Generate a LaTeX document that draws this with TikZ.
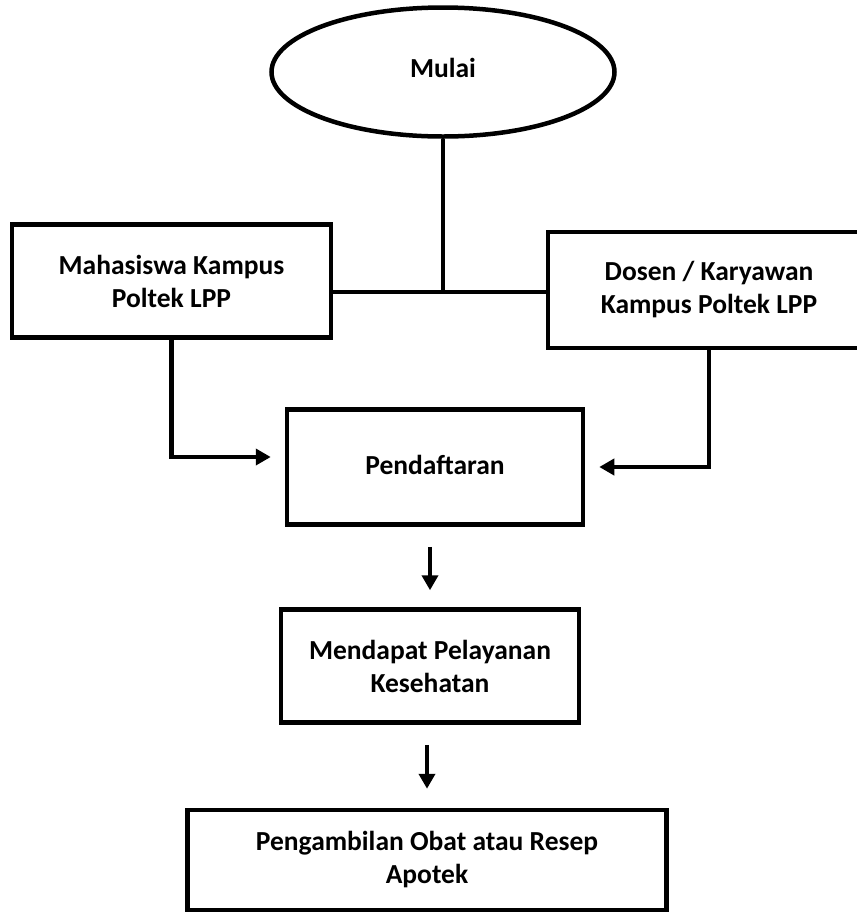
\documentclass[tikz,border=0pt]{standalone}
\usepackage{fontspec}
\setmainfont{Carlito}
\usepackage{tikz}
\usetikzlibrary{calc,arrows.meta,shapes.geometric}
\newcommand{\linecolor}{black}
\newcommand{\thickness}{4.5pt}
\tikzset{
  box/.style={draw=\linecolor, line width=\thickness, rectangle, align=center,
    font=\fontsize{27.5}{33}\selectfont\bfseries},
  start/.style={box, ellipse},
  link/.style={draw=\linecolor, line width=\thickness},
  arr/.style={link, -{Triangle[length=15pt,width=16pt]}}
}

\begin{document}
\begin{tikzpicture}[x=1pt,y=-1pt]
\useasboundingbox (0,0) rectangle (857,914);
\node[start, minimum width=343, minimum height=129] (mulai) at (443, 72) {\raisebox{9pt}{Mulai}};
\node[box, minimum width=319, minimum height=113] (mhs) at (171.5, 281) {Mahasiswa Kampus\\Poltek LPP};
\node[box, minimum width=322, minimum height=116] (dosen) at (709, 290) {Dosen / Karyawan\\Kampus Poltek LPP};
\node[box, minimum width=296, minimum height=115] (daftar) at (435, 467) {\raisebox{5pt}{Pendaftaran}};
\node[box, minimum width=298, minimum height=113] (dapat) at (430, 666) {Mendapat Pelayanan\\Kesehatan};
\node[box, minimum width=479, minimum height=100] (ambil) at (427, 860) {Pengambilan Obat atau Resep\\Apotek};
\coordinate (jn) at (mulai.south |- 0, 292);
%percabangan
\draw[link] (mulai.south) -- (jn);
\draw[link] (mhs.east |- jn) -- (dosen.west |- jn);
%masuk pendaftaran
\draw[arr, shorten >=14pt] (mhs.south) |- ([yshift=10]daftar.west);
\draw[arr, shorten >=14pt] (dosen.south) |- (daftar.east);
%alur ke bawah
\draw[arr, shorten <=20pt, shorten >=17pt] (daftar.south -| dapat.north) -- (dapat.north);
\draw[arr, shorten <=20pt, shorten >=19pt] (dapat.south -| ambil.north) -- (ambil.north);
\end{tikzpicture}
\end{document}
